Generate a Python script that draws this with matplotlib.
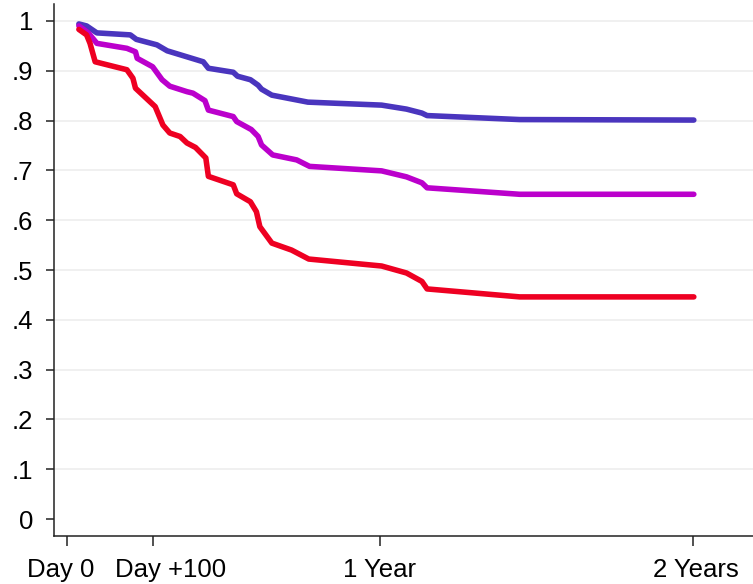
import matplotlib.pyplot as plt
import matplotlib.transforms as mtransforms

# Kaplan-Meier tarzi egriler (gun, olasilik) - gorselden okunan degerler
blue_days = [14, 23, 35, 74, 81, 105, 117, 159, 165, 194, 199, 214, 223, 227, 239, 281, 367, 396, 414, 420, 528, 731]
blue_vals = [0.994, 0.990, 0.976, 0.972, 0.963, 0.952, 0.940, 0.918, 0.905, 0.897, 0.889, 0.882, 0.871, 0.863,
             0.851, 0.837, 0.831, 0.823, 0.815, 0.810, 0.802, 0.801]

magenta_days = [14, 25, 35, 70, 80, 82, 100, 111, 120, 140, 147, 161, 165, 194, 198, 215, 223, 227, 240, 268,
                283, 367, 396, 414, 420, 528, 731]
magenta_vals = [0.990, 0.976, 0.955, 0.945, 0.938, 0.925, 0.908, 0.882, 0.869, 0.858, 0.855, 0.840, 0.821, 0.808,
                0.798, 0.782, 0.768, 0.751, 0.731, 0.721, 0.708, 0.699, 0.687, 0.675, 0.665, 0.652, 0.652]

red_days = [14, 23, 27, 33, 70, 77, 80, 103, 112, 120, 132, 140, 150, 162, 165, 194, 198, 214, 221, 225, 239,
            262, 282, 367, 396, 414, 420, 528, 731]
red_vals = [0.983, 0.972, 0.955, 0.918, 0.902, 0.885, 0.865, 0.828, 0.791, 0.775, 0.768, 0.755, 0.746, 0.725,
            0.688, 0.671, 0.653, 0.637, 0.617, 0.587, 0.554, 0.540, 0.522, 0.508, 0.494, 0.477, 0.462, 0.446, 0.446]

x_ticks = [0, 100, 365, 730]
x_labels = ["Day 0", "Day +100", "1 Year", "2 Years"]
y_ticks = [0, 0.1, 0.2, 0.3, 0.4, 0.5, 0.6, 0.7, 0.8, 0.9, 1.0]
y_labels = ["0", ".1", ".2", ".3", ".4", ".5", ".6", ".7", ".8", ".9", "1"]

plt.rcParams['font.family'] = ['Liberation Sans', 'DejaVu Sans']

fig = plt.figure(figsize=(7.53, 5.84), dpi=100)
ax = fig.add_axes([54 / 753, 48 / 584, 1 - 54 / 753, 532 / 584])

style = dict(lw=4.0, solid_capstyle='round', solid_joinstyle='round', zorder=3)
ax.plot(blue_days, blue_vals, color='#4A35BE', **style)
ax.plot(magenta_days, magenta_vals, color='#BB00CC', **style)
ax.plot(red_days, red_vals, color='#EE0022', **style)

ax.set_xlim(-15, 800)
ax.set_ylim(-0.034, 1.034)

ax.set_xticks(x_ticks)
ax.set_xticklabels(x_labels)
ax.set_yticks(y_ticks)
ax.set_yticklabels(y_labels)

ax.grid(axis='y', color='#EEEEEE', lw=1.2, zorder=0)
ax.yaxis.get_gridlines()[0].set_visible(False)

for s in ['top', 'right']:
    ax.spines[s].set_visible(False)
for s in ['left', 'bottom']:
    ax.spines[s].set_linewidth(1.1)
    ax.spines[s].set_color('#222222')

ax.tick_params(axis='both', labelsize=18.5, colors='#222222', width=1.1, labelcolor='black')
ax.tick_params(axis='x', length=7, pad=9)
ax.tick_params(axis='y', length=6, pad=9)

# ilk iki etiket birbirine carpmasin diye kaydir
shifts = [-6, 18, 0, 3]
for lab, dx in zip(ax.get_xticklabels(), shifts):
    lab.set_transform(lab.get_transform() + mtransforms.ScaledTranslation(dx / 100, 0, fig.dpi_scale_trans))

fig.savefig("out.png", dpi=100)
